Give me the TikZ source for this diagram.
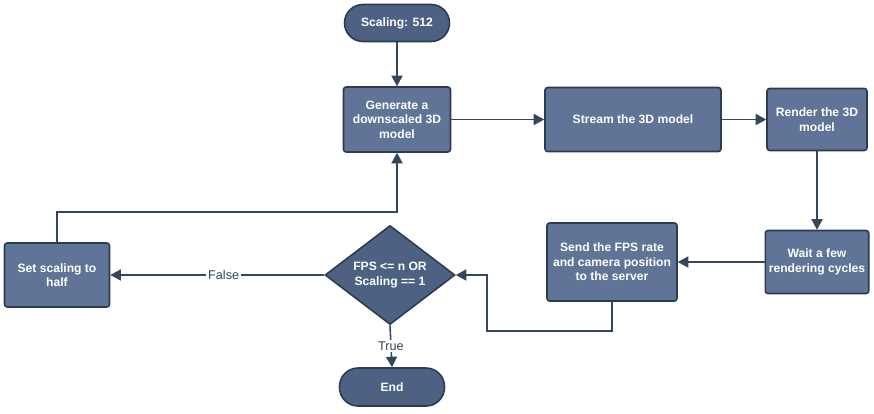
\documentclass[tikz,border=0pt]{standalone}
\usepackage{fontspec}
\setmainfont{Liberation Sans}
\usetikzlibrary{shapes.geometric,arrows.meta}
\definecolor{boxfill}{HTML}{5F7497}
\definecolor{termfill}{HTML}{4D6283}
\definecolor{edge}{HTML}{2C3B4F}
\definecolor{wire}{HTML}{34465C}
\tikzset{
  base/.style={draw=edge, line width=0.9pt, text=white, align=center,
    font=\fontsize{6.9}{8.3}\selectfont\bfseries, inner sep=2pt},
  procbox/.style={base, fill=boxfill, rounded corners=1.5pt},
  termbox/.style={base, fill=termfill, rounded corners=0.37cm},
  decbox/.style={base, fill=termfill, diamond, inner sep=0pt},
  wirearrow/.style={draw=wire, line width=0.9pt,
    -{Triangle[length=2.1mm,width=2.2mm]}},
  edgelabel/.style={fill=white, text=wire, inner sep=1pt,
    font=\fontsize{7.2}{8.6}\selectfont}
}
\begin{document}
\begin{tikzpicture}[x=0.02cm,y=-0.02cm]
  \useasboundingbox (0,0) rectangle (874,413);

  % nodes
  \node[termbox, minimum width=2.1cm, minimum height=0.74cm] (start) at (397,23) {Scaling: 512};
  \node[procbox, minimum width=2.14cm, minimum height=1.3cm] (gen) at (397,119.5) {Generate a\\downscaled 3D\\model};
  \node[procbox, minimum width=3.52cm, minimum height=1.28cm] (stream) at (633,119.5) {Stream the 3D model};
  \node[procbox, minimum width=2.0cm, minimum height=1.24cm] (render) at (817,119.5) {Render the 3D\\model};
  \node[procbox, minimum width=2.0cm, minimum height=1.26cm] (wait) at (817,262) {Wait a few\\rendering cycles};
  \node[procbox, minimum width=2.6cm, minimum height=1.56cm] (send) at (612,262) {Send the FPS rate\\and camera position\\to the server};
  \node[decbox, minimum width=2.6cm, minimum height=1.5cm] (dec) at (390,275) {FPS <= n OR\\Scaling == 1};
  \node[procbox, minimum width=2.1cm, minimum height=1.28cm] (set) at (57,275) {Set scaling to\\half};
  \node[termbox, minimum width=2.1cm, minimum height=0.76cm] (end) at (392,387) {End};

  % bend points
  \coordinate (loopA) at (487,331);
  \coordinate (loopB) at (397,212);

  % connectors
  \draw[wirearrow] (start) -- (gen);
  \draw[wirearrow] (gen) -- (stream);
  \draw[wirearrow] (stream) -- (render);
  \draw[wirearrow] (render) -- (wait);
  \draw[wirearrow] (wait) -- (send);
  \draw[wirearrow] (send.south) |- (loopA) |- (dec.east);
  \draw[wirearrow] (dec.west) -- node[edgelabel, pos=0.47] (lblF) {False} (set.east);
  \draw[wirearrow] (dec.south) -- node[edgelabel, pos=0.5] (lblT) {True} (end.north);
  \draw[wirearrow] (set.north) |- (loopB) -- (gen.south);
\end{tikzpicture}
\end{document}
